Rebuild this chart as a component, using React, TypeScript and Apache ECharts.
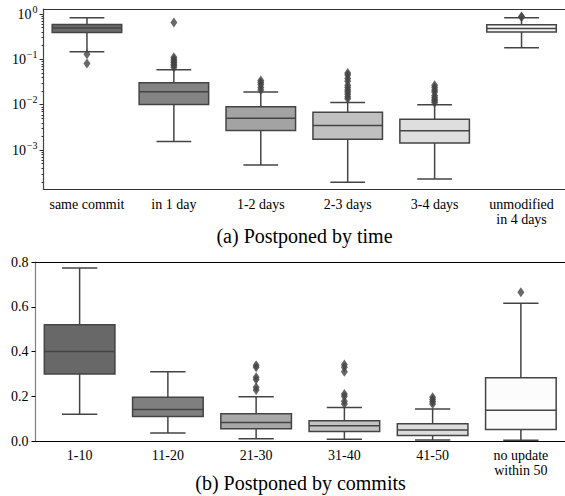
import React, { useEffect, useRef } from 'react';
import * as echarts from 'echarts';

// ---- (a) Postponed by time (log scale) ----
const timeCategories = ['same commit', 'in 1 day', '1-2 days', '2-3 days', '3-4 days', 'unmodified\nin 4 days'];
const timeLow = [0.147, 0.00155, 0.00047, 0.000195, 0.00023, 0.18];
const timeQ1 = [0.39, 0.0101, 0.0027, 0.00174, 0.00144, 0.40];
const timeMedian = [0.49, 0.0193, 0.005, 0.0035, 0.00266, 0.48];
const timeQ3 = [0.59, 0.0305, 0.009, 0.0068, 0.0048, 0.58];
const timeHigh = [0.83, 0.059, 0.019, 0.0112, 0.0100, 0.83];
const timeOutliers = [
  [0.13, 0.081],
  [0.65, 0.112, 0.1, 0.092, 0.085, 0.078, 0.072, 0.066],
  [0.034, 0.031, 0.028, 0.024, 0.021],
  [0.05, 0.045, 0.038, 0.033, 0.027, 0.024, 0.021, 0.019, 0.017, 0.015, 0.0135],
  [0.027, 0.024, 0.021, 0.019, 0.016, 0.0145, 0.013, 0.012, 0.011],
  [0.88, 0.86],
];
const timeTicks = [0.001, 0.01, 0.1, 1];
const minorDecades = [1e-4, 1e-3, 1e-2, 1e-1];
const minorSteps = [2, 3, 4, 5, 6, 7, 8, 9];

// ---- (b) Postponed by commits ----
const commitCategories = ['1-10', '11-20', '21-30', '31-40', '41-50', 'no update\nwithin 50'];
const commitLow = [0.12, 0.036, 0.01, 0.008, 0.004, 0.003];
const commitQ1 = [0.3, 0.11, 0.055, 0.043, 0.025, 0.051];
const commitMedian = [0.4, 0.141, 0.083, 0.068, 0.049, 0.137];
const commitQ3 = [0.519, 0.195, 0.122, 0.091, 0.077, 0.283];
const commitHigh = [0.773, 0.309, 0.198, 0.15, 0.143, 0.616];
const commitOutliers = [
  [],
  [],
  [0.338, 0.33, 0.285, 0.275, 0.24, 0.228],
  [0.342, 0.33, 0.31, 0.21, 0.2, 0.178, 0.165],
  [0.195, 0.185, 0.175, 0.165],
  [0.665],
];

const timeFills = ['#6b6b6b', '#838383', '#a3a3a3', '#c0c0c0', '#dedede', '#f6f6f6'];
const commitFills = ['#686868', '#7f7f7f', '#a8a8a8', '#c3c3c3', '#dcdcdc', '#fcfcfc'];

const FONT = 'Liberation Serif';
const LINE = '#444444';
const LOG_MIN = 1.35e-4;
const LOG_MAX = 1.29;

function boxData(low: number[], q1: number[], med: number[], q3: number[], high: number[]) {
  return low.map((_, i) => [i, low[i], q1[i], med[i], q3[i], high[i]]);
}
function outlierData(out: number[][]) {
  const res: number[][] = [];
  out.forEach((vals, i) => vals.forEach((v) => res.push([i, v])));
  return res;
}
const minorTickValues: number[] = [];
minorDecades.forEach((d) => minorSteps.forEach((s) => {
  const v = d * s;
  if (v > LOG_MIN && v < LOG_MAX) minorTickValues.push(v);
}));

function makeRenderItem(fills: string[]) {
  return (params: any, api: any) => {
    const x = api.value(0);
    const low = api.coord([x, api.value(1)]);
    const q1 = api.coord([x, api.value(2)]);
    const med = api.coord([x, api.value(3)]);
    const q3 = api.coord([x, api.value(4)]);
    const high = api.coord([x, api.value(5)]);
    const band = api.size([1, 1])[0];
    const bw = band * 0.8;
    const cw = bw / 2;
    const cx = low[0];
    const ls = { stroke: LINE, lineWidth: 1.5 };
    return {
      type: 'group',
      children: [
        { type: 'line', shape: { x1: cx, y1: q3[1], x2: cx, y2: high[1] }, style: ls },
        { type: 'line', shape: { x1: cx, y1: q1[1], x2: cx, y2: low[1] }, style: ls },
        { type: 'line', shape: { x1: cx - cw / 2, y1: high[1], x2: cx + cw / 2, y2: high[1] }, style: ls },
        { type: 'line', shape: { x1: cx - cw / 2, y1: low[1], x2: cx + cw / 2, y2: low[1] }, style: ls },
        {
          type: 'rect',
          shape: { x: cx - bw / 2, y: q3[1], width: bw, height: q1[1] - q3[1] },
          style: { fill: fills[params.dataIndex], stroke: LINE, lineWidth: 1.5 },
        },
        { type: 'line', shape: { x1: cx - bw / 2, y1: med[1], x2: cx + bw / 2, y2: med[1] }, style: ls },
      ],
    };
  };
}

function logLabel(v: number) {
  const l = Math.log10(v);
  const e = Math.round(l);
  if (Math.abs(l - e) > 1e-6) return '';
  const s = e < 0 ? '\u2212' + -e : String(e);
  return '{b|10}{s|' + s + '}';
}

export default function App() {
  const ref = useRef<HTMLDivElement>(null);
  useEffect(() => {
    const chart = echarts.init(ref.current!, null, { renderer: 'svg' });
    const catLabel = { color: '#000', fontFamily: FONT, fontSize: 14, lineHeight: 15, margin: 7, interval: 0 };
    const option: any = {
      animation: false,
      textStyle: { fontFamily: FONT },
      grid: [
        { left: 43.5, top: 9, width: 522, height: 180.5 },
        { left: 35.5, top: 262, width: 530, height: 179 },
      ],
      xAxis: [
        {
          type: 'category', gridIndex: 0, data: timeCategories,
          axisLine: { lineStyle: { color: '#333', width: 1.2 } },
          axisTick: { alignWithLabel: true, length: 4, lineStyle: { color: '#333' } },
          axisLabel: catLabel,
        },
        {
          type: 'value', gridIndex: 0, position: 'top', min: 0, max: 1,
          axisLine: { show: true, onZero: false, lineStyle: { color: '#333', width: 1.2 } },
          axisTick: { show: false }, axisLabel: { show: false }, splitLine: { show: false },
        },
        {
          type: 'category', gridIndex: 1, data: commitCategories,
          axisLine: { lineStyle: { color: '#000', width: 1.2 } },
          axisTick: { alignWithLabel: true, length: 4, lineStyle: { color: '#000' } },
          axisLabel: catLabel,
        },
        {
          type: 'value', gridIndex: 1, position: 'top', min: 0, max: 1,
          axisLine: { show: true, onZero: false, lineStyle: { color: '#000', width: 1.2 } },
          axisTick: { show: false }, axisLabel: { show: false }, splitLine: { show: false },
        },
      ],
      yAxis: [
        {
          type: 'log', gridIndex: 0, min: LOG_MIN, max: LOG_MAX, logBase: 10,
          axisLine: { show: true, lineStyle: { color: '#444', width: 1.2 } },
          axisTick: { show: true, length: 4, customValues: timeTicks, lineStyle: { color: '#333' } },
          minorTick: { show: false },
          splitLine: { show: false },
          axisLabel: {
            customValues: timeTicks,
            formatter: logLabel,
            margin: 6,
            rich: {
              b: { fontFamily: FONT, fontSize: 14, color: '#000', lineHeight: 20, verticalAlign: 'middle' },
              s: { fontFamily: FONT, fontSize: 10, color: '#000', lineHeight: 20, verticalAlign: 'top', padding: [0, 0, 0, 1] },
            },
          },
        },
        {
          type: 'value', gridIndex: 1, min: 0, max: 0.8, interval: 0.2,
          axisLine: { show: true, lineStyle: { color: '#808080', width: 1.2 } },
          axisTick: { show: true, length: 4, lineStyle: { color: '#000' } },
          splitLine: { show: false },
          axisLabel: {
            color: '#000', fontFamily: FONT, fontSize: 14, margin: 7,
            formatter: (v: number) => v.toFixed(1),
          },
        },
        {
          type: 'log', gridIndex: 0, position: 'left', offset: 0, min: LOG_MIN, max: LOG_MAX, logBase: 10,
          axisLine: { show: false },
          axisTick: { show: true, length: 2, customValues: minorTickValues, lineStyle: { color: '#333', width: 1 } },
          axisLabel: { show: false },
          splitLine: { show: false },
        },
      ],
      series: [
        {
          type: 'custom', xAxisIndex: 0, yAxisIndex: 0,
          renderItem: makeRenderItem(timeFills),
          encode: { x: 0, y: [1, 2, 3, 4, 5] },
          data: boxData(timeLow, timeQ1, timeMedian, timeQ3, timeHigh),
          z: 2,
        },
        {
          type: 'scatter', xAxisIndex: 0, yAxisIndex: 0,
          symbol: 'diamond', symbolSize: [7, 10],
          itemStyle: { color: LINE },
          data: outlierData(timeOutliers),
          z: 3,
        },
        {
          type: 'custom', xAxisIndex: 2, yAxisIndex: 1,
          renderItem: makeRenderItem(commitFills),
          encode: { x: 0, y: [1, 2, 3, 4, 5] },
          data: boxData(commitLow, commitQ1, commitMedian, commitQ3, commitHigh),
          z: 2,
        },
        {
          type: 'scatter', xAxisIndex: 2, yAxisIndex: 1,
          symbol: 'diamond', symbolSize: [7, 10],
          itemStyle: { color: LINE },
          data: outlierData(commitOutliers),
          z: 3,
        },
      ],
      graphic: [
        {
          type: 'text', x: 304.5, y: 236,
          style: { text: '(a) Postponed by time', fontFamily: FONT, fontSize: 20, fill: '#000', align: 'center', verticalAlign: 'middle' },
        },
        {
          type: 'text', x: 300.5, y: 483,
          style: { text: '(b) Postponed by commits', fontFamily: FONT, fontSize: 20, fill: '#000', align: 'center', verticalAlign: 'middle' },
        },
      ],
    };
    chart.setOption(option);
    return () => chart.dispose();
  }, []);
  return <div ref={ref} style={{ position: 'absolute', left: 0, top: 0, width: 565, height: 496 }} />;
}
